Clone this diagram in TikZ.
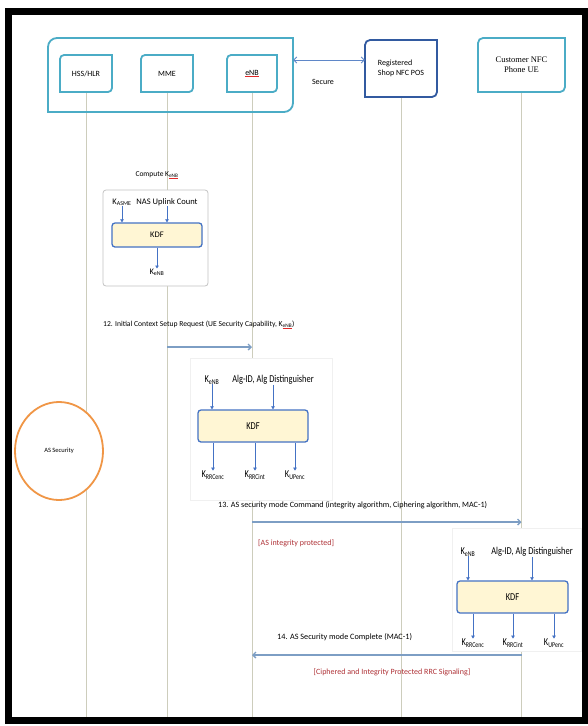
\documentclass[tikz,border=0pt]{standalone}
\usepackage{fontspec}
\setmainfont{Carlito}
\newfontfamily\serifface{Liberation Serif}
\newfontfamily\narrowface[FakeStretch=0.8]{Carlito}
\usetikzlibrary{arrows.meta,calc,shapes.geometric}
\pgfdeclarelayer{bg}
\pgfsetlayers{bg,main}

\definecolor{aqua}{RGB}{75,172,198}
\definecolor{navyb}{RGB}{50,90,160}
\definecolor{msgblue}{RGB}{125,158,196}
\definecolor{secblue}{RGB}{95,135,200}
\definecolor{kdfblue}{RGB}{68,114,196}
\definecolor{kdffill}{RGB}{255,246,212}
\definecolor{lifec}{RGB}{205,205,188}
\definecolor{redtxt}{RGB}{175,50,55}
\definecolor{spellred}{RGB}{225,40,40}
\definecolor{orangec}{RGB}{240,150,70}
\definecolor{panelgray}{RGB}{195,195,195}

% red spell-check underline under a word
\newcommand\spellmark[1]{\setbox0\hbox{#1}\rlap{\textcolor{spellred}{\rule[-1.3pt]{\wd0}{0.6pt}}}\box0}

% rectangle with rounded top-left and bottom-right corners (y axis points down)
\newcommand\rdbox[6][]{%
  \draw[#1] (#2,#5) -- (#2,{#3+#6}) arc(180:270:#6) -- (#4,#3) -- (#4,{#5-#6}) arc(0:90:#6) -- cycle;}

\begin{document}
\begin{tikzpicture}[x=1pt,y=-1pt,
  lbl/.style={inner sep=0pt, font=\fontsize{8}{9.5}\selectfont},
  msgtxt/.style={inner sep=0pt, anchor=west, font=\fontsize{8}{9.5}\selectfont},
  redlbl/.style={inner sep=0pt, text=redtxt, font=\fontsize{8}{9.5}\selectfont},
  blk/.style={inner sep=0pt, font=\fontsize{8.5}{10}\selectfont},
  nblk/.style={inner sep=0pt, font=\narrowface\fontsize{10.5}{12}\selectfont},
  kdfbox/.style={draw=kdfblue, fill=kdffill, line width=1.3pt, rounded corners=3pt, inner sep=0pt},
  panel/.style={draw=gray!12, fill=white, line width=0.4pt, inner sep=0pt},
  life/.style={draw=lifec, line width=1pt},
  msg/.style={draw=msgblue, line width=1.3pt, -{Straight Barb[length=3pt,width=6pt]}},
  karrow/.style={draw=kdfblue, line width=0.8pt, -{Triangle[length=3pt,width=3.5pt]}},
  secarrow/.style={draw=secblue, line width=0.9pt, {Straight Barb[length=3pt,width=6pt]}-{Straight Barb[length=3pt,width=6pt]}},
  tealframe/.style={draw=aqua, line width=1.8pt},
]
\useasboundingbox (0,0) rectangle (588,726);

% ---------- network side and end points ----------
\node[minimum width=245pt, minimum height=74pt, inner sep=0pt] (core) at (170.5,75) {};
\rdbox[tealframe]{48}{38}{293}{112}{9}

\node[lbl, minimum width=52pt, minimum height=37pt] (hss) at (86,73.5) {HSS/HLR};
\rdbox[tealframe]{60}{55}{112}{92}{4}
\node[lbl, minimum width=52pt, minimum height=37pt] (mme) at (167,73.5) {MME};
\rdbox[tealframe]{141}{55}{193}{92}{4}
\node[lbl, minimum width=50pt, minimum height=37pt] (enb) at (252,73.5) {\spellmark{eNB}};
\rdbox[tealframe]{227}{55}{277}{92}{4}

\node[lbl, align=left, minimum width=72pt, minimum height=57pt] (pos) at (401,68.5)
  {Registered\\Shop NFC POS};
\rdbox[draw=navyb, line width=1.8pt]{365}{40}{437}{97}{5}

\node[lbl, align=center, font=\serifface\fontsize{8.5}{10}\selectfont,
      minimum width=87pt, minimum height=54pt] (ue) at (521.5,65)
  {Customer NFC\\Phone UE};
\rdbox[tealframe]{478}{38}{565}{92}{5}

% secure link between the core and the shop terminal
\coordinate (ysec) at (0,60);
\draw[secarrow] (core.east |- ysec) -- (pos.west |- ysec);
\node[lbl] (securelbl) at (323,82) {Secure};

% ---------- lifelines ----------
\coordinate (ybot) at (0,717);
\begin{pgfonlayer}{bg}
  \fill[white] (0,0) rectangle (588,726);
  \draw[life] (hss.south) -- (hss.south |- ybot);
  \draw[life] (mme.south) -- (mme.south |- ybot);
  \draw[life] (enb.south) -- (enb.south |- ybot);
  \draw[life] (pos.south) -- (pos.south |- ybot);
  \draw[life] (ue.south)  -- (ue.south |- ybot);
\end{pgfonlayer}

% ---------- K_eNB derivation at the MME ----------
\node[lbl, font=\fontsize{7.5}{9}\selectfont] (computelbl) at (157,175)
  {Compute K\textsubscript{\spellmark{eNB}}};
\node[draw=panelgray, fill=white, rounded corners=3pt, line width=0.8pt,
      minimum width=105pt, minimum height=96pt, inner sep=0pt] (kenbbox) at (155.5,238) {};
\node[blk] (kasme) at (122,202) {K\textsubscript{ASME}};
\node[blk] (nas) at (167,202) {NAS Uplink Count};
\node[kdfbox, minimum width=90pt, minimum height=24pt, font=\fontsize{8.5}{10}\selectfont] (kdf1) at (157,235) {KDF};
\node[blk] (kenb1) at (157,272) {K\textsubscript{eNB}};
\draw[karrow] (kasme.south) -- (kasme.south |- kdf1.north);
\draw[karrow] (nas.south) -- (nas.south |- kdf1.north);
\draw[karrow] (kdf1.south -| kenb1) -- (kenb1.north);

% message 12
\coordinate (y12) at (0,347);
\node[msgtxt, font=\fontsize{7.6}{9}\selectfont] (m12) at (103,325)
  {12. Initial Context Setup Request (UE Security Capability, K\textsubscript{\spellmark{eNB}})};
\draw[msg] (mme.south |- y12) -- (enb.south |- y12);

% ---------- AS key derivation at the eNB ----------
\node[panel, minimum width=142pt, minimum height=142pt] (panel2) at (261,429) {};
\node[nblk] (kenb2) at (212,380) {K\textsubscript{eNB}};
\node[nblk] (alg2) at (273,380) {Alg-ID, Alg Distinguisher};
\node[kdfbox, minimum width=110pt, minimum height=32pt, font=\narrowface\fontsize{10.5}{12}\selectfont] (kdf2) at (253,426) {KDF};
\node[nblk] (rrcenc2) at (213,475) {K\textsubscript{RRCenc}};
\node[nblk] (rrcint2) at (255,475) {K\textsubscript{RRCint}};
\node[nblk] (upenc2) at (295,475) {K\textsubscript{UPenc}};
\draw[karrow] (kenb2.south) -- (kenb2.south |- kdf2.north);
\draw[karrow] (alg2.south) -- (alg2.south |- kdf2.north);
\draw[karrow] (kdf2.south -| rrcenc2) -- (rrcenc2.north);
\draw[karrow] (kdf2.south -| rrcint2) -- (rrcint2.north);
\draw[karrow] (kdf2.south -| upenc2) -- (upenc2.north);

% AS security phase marker
\node[ellipse, draw=orangec, fill=white, line width=1.8pt, minimum width=88pt,
      minimum height=98pt, inner sep=0pt, font=\fontsize{6.5}{8}\selectfont] (assec) at (59,451) {AS Security};

% message 13
\coordinate (y13) at (0,522);
\node[msgtxt, font=\fontsize{8.1}{9.5}\selectfont] (m13) at (218,505)
  {13. AS security mode Command (integrity algorithm, Ciphering algorithm, MAC-1)};
\draw[msg] (enb.south |- y13) -- (ue.south |- y13);
\node[redlbl, anchor=west] (asprot) at (258,543) {[AS integrity protected]};

% ---------- AS key derivation at the UE ----------
\node[panel, minimum width=129pt, minimum height=123pt] (panel3) at (516.5,589.5) {};
\node[nblk] (kenb3) at (468,552) {K\textsubscript{eNB}};
\node[nblk] (alg3) at (532,552) {Alg-ID, Alg Distinguisher};
\node[kdfbox, minimum width=111pt, minimum height=32pt, font=\narrowface\fontsize{10.5}{12}\selectfont] (kdf3) at (512.5,597) {KDF};
\node[nblk] (rrcenc3) at (473,643) {K\textsubscript{RRCenc}};
\node[nblk] (rrcint3) at (513,643) {K\textsubscript{RRCint}};
\node[nblk] (upenc3) at (554,643) {K\textsubscript{UPenc}};
\draw[karrow] (kenb3.south) -- (kenb3.south |- kdf3.north);
\draw[karrow] (alg3.south) -- (alg3.south |- kdf3.north);
\draw[karrow] (kdf3.south -| rrcenc3) -- (rrcenc3.north);
\draw[karrow] (kdf3.south -| rrcint3) -- (rrcint3.north);
\draw[karrow] (kdf3.south -| upenc3) -- (upenc3.north);

% message 14
\coordinate (y14) at (0,655);
\node[msgtxt, font=\fontsize{8.2}{9.5}\selectfont] (m14) at (277,637) {14. AS Security mode Complete (MAC-1)};
\draw[msg] (ue.south |- y14) -- (enb.south |- y14);
\node[redlbl] (rrcprot) at (392,672) {[Ciphered and Integrity Protected RRC Signaling]};

% ---------- outer frame ----------
\draw[line width=7pt] (8,11.5) rectangle (585,720.5);
\end{tikzpicture}
\end{document}
